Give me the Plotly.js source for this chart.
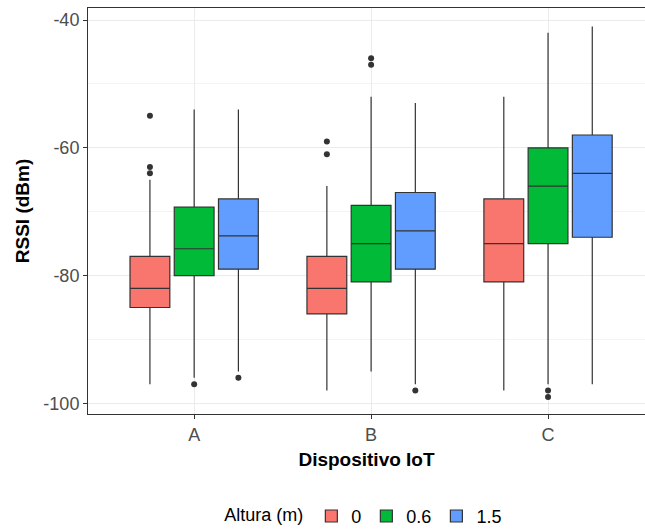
<!DOCTYPE html>
<html>
<head>
<meta charset="utf-8">
<script src="https://cdn.plot.ly/plotly-3.0.1.min.js"></script>
<style>html,body{margin:0;padding:0;background:#fff;}#chart{width:645px;height:529px;}</style>
</head>
<body>
<div id="chart"></div>
<script>
const categories = ['A', 'B', 'C'];
const seriesNames = ['0', '0.6', '1.5'];
const seriesColors = ['#F8766D', '#00BA38', '#619CFF'];

// Altura 0
const lower_0  = [-97, -98, -98];
const q1_0     = [-85, -86, -81];
const median_0 = [-82, -82, -75];
const q3_0     = [-77, -77, -68];
const upper_0  = [-65, -66, -52];
const outX_0   = ['A', 'A', 'A', 'B', 'B'];
const outY_0   = [-55, -63, -64, -59, -61];

// Altura 0.6
const lower_1  = [-96, -95, -97];
const q1_1     = [-80, -81, -75];
const median_1 = [-75.8, -75, -66];
const q3_1     = [-69.3, -69, -60];
const upper_1  = [-54, -52, -42];
const outX_1   = ['A', 'B', 'B', 'C', 'C'];
const outY_1   = [-97, -46, -47, -98, -99];

// Altura 1.5
const lower_2  = [-95, -97, -97];
const q1_2     = [-79, -79, -74];
const median_2 = [-73.8, -73, -64];
const q3_2     = [-68, -67, -58];
const upper_2  = [-54, -53, -41];
const outX_2   = ['A', 'B'];
const outY_2   = [-96, -98];

const yTickVals = [-100, -80, -60, -40];
const yTickText = ['-100', '-80', '-60', '-40'];

const stats = [
  {lo: lower_0, q1: q1_0, me: median_0, q3: q3_0, up: upper_0, ox: outX_0, oy: outY_0},
  {lo: lower_1, q1: q1_1, me: median_1, q3: q3_1, up: upper_1, ox: outX_1, oy: outY_1},
  {lo: lower_2, q1: q1_2, me: median_2, q3: q3_2, up: upper_2, ox: outX_2, oy: outY_2}
];

const traces = [];
stats.forEach((s, i) => {
  traces.push({
    type: 'box',
    name: seriesNames[i],
    x: categories,
    q1: s.q1, median: s.me, q3: s.q3,
    lowerfence: s.lo, upperfence: s.up,
    boxpoints: false,
    whiskerwidth: 0,
    fillcolor: seriesColors[i],
    line: {color: '#333333', width: 1.2},
    hoverinfo: 'skip',
    legendgroup: 'g' + i
  });
});
stats.forEach((s, i) => {
  traces.push({
    type: 'scatter',
    mode: 'markers',
    x: s.ox, y: s.oy,
    marker: {color: '#333333', size: 6},
    showlegend: false,
    hoverinfo: 'skip',
    legendgroup: 'g' + i
  });
});

const layout = {
  width: 645, height: 529,
  margin: {l: 88, r: 0, t: 8, b: 115, autoexpand: false},
  paper_bgcolor: '#ffffff',
  plot_bgcolor: '#ffffff',
  font: {family: 'Liberation Sans, Arial, sans-serif', size: 18, color: '#4D4D4D'},
  boxmode: 'group',
  boxgap: 0.25,
  boxgroupgap: 0.1,
  scattermode: 'group',
  scattergap: 0.25,
  showlegend: true,
  xaxis: {
    type: 'category',
    categoryorder: 'array', categoryarray: categories,
    range: [-0.6, 2.548],
    automargin: false,
    showgrid: true, gridcolor: '#EBEBEB', gridwidth: 1,
    showline: true, mirror: true, linecolor: '#333333', linewidth: 1,
    ticks: 'outside', ticklen: 4, tickcolor: '#333333',
    tickfont: {size: 18, color: '#4D4D4D'},
    zeroline: false,
    title: {text: '<b>Dispositivo IoT</b>', font: {size: 19, color: '#000000'}, standoff: 9}
  },
  yaxis: {
    range: [-101.67, -38.12],
    automargin: false,
    tickvals: yTickVals, ticktext: yTickText,
    showgrid: true, gridcolor: '#EBEBEB', gridwidth: 1,
    minor: {tickvals: [-90, -70, -50], showgrid: true, gridcolor: '#F3F3F3', gridwidth: 1, ticks: ''},
    showline: true, mirror: false, linecolor: '#333333', linewidth: 1,
    ticks: 'outside', ticklen: 4, tickcolor: '#333333',
    tickfont: {size: 18, color: '#4D4D4D'},
    zeroline: false,
    title: {text: '<b>RSSI (dBm)</b>', font: {size: 19, color: '#000000'}, standoff: 8}
  },
  legend: {
    orientation: 'h',
    x: 0.497, xanchor: 'center',
    y: -0.252, yanchor: 'middle',
    font: {size: 18, color: '#000000'},
    title: {text: 'Altura (m)', side: 'left', font: {size: 18, color: '#000000'}},
    itemwidth: 30,
    tracegroupgap: 0
  }
};

Plotly.newPlot('chart', traces, layout, {displayModeBar: false, staticPlot: true});
</script>
</body>
</html>
